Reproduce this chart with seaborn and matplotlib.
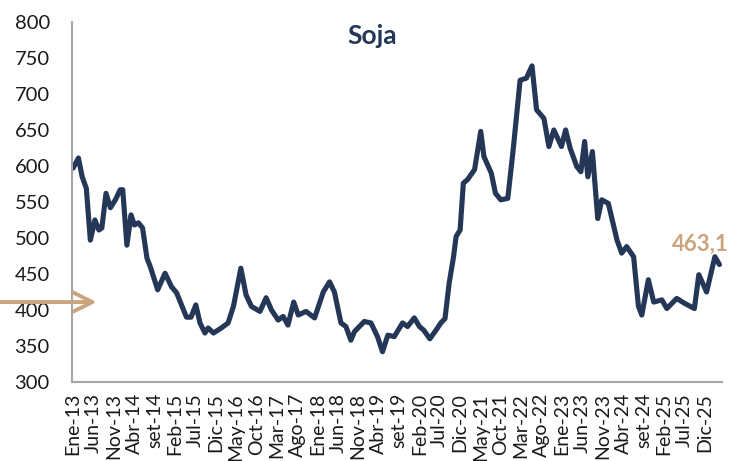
import pandas as pd
import matplotlib.pyplot as plt
import seaborn as sns

# Precio de la soja (USD/t)
fechas = [
    '2013-01-01', '2013-02-10', '2013-03-10', '2013-04-10', '2013-05-10', '2013-06-13',
    '2013-07-13', '2013-08-04', '2013-09-04', '2013-10-07', '2013-11-13', '2013-12-19',
    '2014-01-07', '2014-02-07', '2014-03-10', '2014-04-04', '2014-05-04', '2014-06-04',
    '2014-07-07', '2014-08-01', '2014-09-25', '2014-11-19', '2015-01-07', '2015-02-13',
    '2015-04-28', '2015-06-01', '2015-07-07', '2015-08-07', '2015-09-13', '2015-10-07',
    '2015-11-16', '2016-01-13', '2016-03-04', '2016-04-13', '2016-06-07', '2016-07-16',
    '2016-08-25', '2016-10-28', '2016-12-13', '2017-01-22', '2017-03-13', '2017-04-19',
    '2017-05-25', '2017-07-07', '2017-08-10', '2017-10-07', '2017-12-10', '2018-02-13',
    '2018-04-01', '2018-05-07', '2018-06-25', '2018-08-01', '2018-09-07', '2018-10-04',
    '2018-12-16', '2019-02-04', '2019-03-25', '2019-05-01', '2019-06-10', '2019-07-28',
    '2019-09-28', '2019-11-04', '2019-12-25', '2020-02-01', '2020-03-04', '2020-04-19',
    '2020-06-04', '2020-07-10', '2020-08-10', '2020-09-10', '2020-10-13', '2020-11-01',
    '2020-12-01', '2020-12-25', '2021-01-25', '2021-03-19', '2021-05-04', '2021-05-28',
    '2021-07-22', '2021-08-22', '2021-10-01', '2021-11-22', '2022-01-01', '2022-02-22',
    '2022-04-10', '2022-05-22', '2022-06-25', '2022-08-19', '2022-09-25', '2022-11-01',
    '2022-12-28', '2023-01-28', '2023-03-04', '2023-04-22', '2023-05-22', '2023-06-19',
    '2023-07-13', '2023-08-16', '2023-09-25', '2023-10-25', '2023-12-13', '2024-02-16',
    '2024-03-22', '2024-04-28', '2024-06-19', '2024-07-25', '2024-08-19', '2024-10-07',
    '2024-11-16', '2025-01-16', '2025-02-22', '2025-05-07', '2025-07-07', '2025-09-16',
    '2025-10-19', '2025-12-16', '2026-02-16', '2026-03-22',
]
precios = [
    597, 611, 585, 569, 497, 525,
    511, 514, 562, 542, 553, 567,
    567, 490, 532, 518, 521, 514,
    472, 460, 428, 451, 432, 424,
    390, 390, 407, 382, 368, 375,
    368, 375, 382, 405, 458, 421,
    405, 398, 417, 400, 386, 391,
    379, 411, 393, 398, 389, 425,
    439, 425, 382, 377, 358, 370,
    384, 382, 363, 342, 365, 363,
    382, 377, 389, 377, 372, 360,
    372, 382, 388, 437, 474, 502,
    511, 576, 581, 595, 648, 613,
    590, 562, 553, 555, 622, 719,
    722, 739, 678, 666, 627, 650,
    627, 650, 624, 599, 592, 634,
    585, 620, 527, 553, 548, 497,
    479, 488, 474, 405, 393, 442,
    411, 414, 402, 416, 409, 402,
    449, 425, 474, 463.1,
]
meses_es = ['Ene', 'Feb', 'Mar', 'Abr', 'May', 'Jun', 'Jul', 'Ago', 'set', 'Oct', 'Nov', 'Dic']
etiqueta_ultimo = '463,1'
nivel_flecha = 411

azul = '#243757'
dorado = '#C9A47D'
gris = '#A6A6A6'

sns.set_style('white')
plt.rcParams['font.family'] = ['Lato', 'DejaVu Sans']

df = pd.DataFrame({'fecha': pd.to_datetime(fechas), 'precio': precios})

fig = plt.figure(figsize=(7.5, 4.61), dpi=100)
ax = fig.add_axes([0.096, 0.1714, 0.867, 0.781])

sns.lineplot(data=df, x='fecha', y='precio', ax=ax, color=azul, linewidth=3.7,
             solid_joinstyle='round', solid_capstyle='round')

ax.set_ylim(300, 800)
ax.set_yticks(range(300, 801, 50))
ax.set_xlim(pd.Timestamp('2012-12-24'), pd.Timestamp('2026-04-12'))

# etiquetas cada 5 meses, marcas cada año
etiquetas = pd.date_range('2013-01-01', '2025-12-01', freq='5MS')
ax.set_xticks(etiquetas)
ax.set_xticklabels([f"{meses_es[d.month - 1]}-{d.strftime('%y')}" for d in etiquetas], rotation=90)
ax.set_xticks(pd.date_range('2013-01-01', '2026-01-01', freq='YS'), minor=True)

ax.tick_params(axis='x', which='major', length=0, pad=8, labelsize=14, labelcolor='#1a1a1a')
ax.tick_params(axis='x', which='minor', length=4, width=1.5, color=gris, direction='out')
ax.tick_params(axis='y', length=6, width=1.5, color=gris, direction='out', pad=10,
               labelsize=14.5, labelcolor='#1a1a1a')

ax.set_xlabel('')
ax.set_ylabel('')
sns.despine(ax=ax)
for s in ['left', 'bottom']:
    ax.spines[s].set_color(gris)
    ax.spines[s].set_linewidth(1.5)

ultimo = df.iloc[-1]
ax.annotate(etiqueta_ultimo, xy=(ultimo['fecha'], ultimo['precio']), xytext=(-14, 15),
            textcoords='offset points', ha='center', va='center',
            fontsize=16, fontweight='bold', color=dorado)

ax.annotate('', xy=(0.038, nivel_flecha), xycoords=('axes fraction', 'data'),
            xytext=(-0.111, nivel_flecha), textcoords=('axes fraction', 'data'),
            arrowprops=dict(arrowstyle='->,head_length=1.4,head_width=0.7',
                            lw=2.8, color=dorado, shrinkA=0, shrinkB=0),
            annotation_clip=False)

fig.text(372 / 750, 1 - 36 / 461, 'Soja', ha='center', va='center',
         fontsize=19, fontweight='bold', color=azul)

fig.savefig('out.png', dpi=100)
